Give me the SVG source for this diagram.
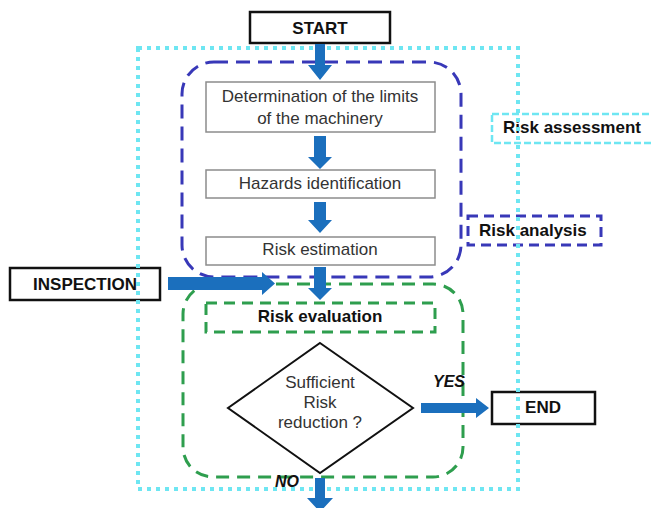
<svg xmlns="http://www.w3.org/2000/svg" width="652" height="508" viewBox="0 0 652 508">
<style>
text{font-family:"Liberation Sans",Arial,sans-serif}
.box{fill:#fff;stroke:#8c8c8c;stroke-width:1.5}
.term{fill:none;stroke:#111;stroke-width:2.5}
.t{font-size:17px;fill:#333;text-anchor:middle}
.b{font-size:17px;font-weight:bold;fill:#111}
.bi{font-size:16px;font-weight:bold;font-style:italic;fill:#111}
.arr{fill:#1b6fbd}
.cyan{fill:none;stroke:#6ee6f2;stroke-width:4;stroke-dasharray:4 5}
.cyanl{fill:none;stroke:#6ee6f2;stroke-width:2.5;stroke-dasharray:7 3}
.blue{fill:none;stroke:#3838b8;stroke-width:3;stroke-dasharray:14 8}
.green{fill:none;stroke:#2e9e4e;stroke-width:3;stroke-dasharray:13 8}
</style>
<rect width="652" height="508" fill="#fff"/>
<g id="regions">
<rect id="risk-analysis-region" class="blue" x="182" y="62" width="279" height="215" rx="32"/>
<rect id="risk-evaluation-region" class="green" x="183" y="284" width="280" height="193" rx="30"/>
</g>
<g id="start"><rect class="term" x="250" y="12" width="140" height="31"/><text class="b" x="320" y="34" text-anchor="middle" font-size="18">START</text></g>
<g id="limits"><rect class="box" x="206" y="82" width="229" height="50"/><text class="t" x="320" y="102">Determination of the limits</text><text class="t" x="320" y="124">of the machinery</text></g>
<g id="hazards"><rect class="box" x="206" y="170" width="229" height="28"/><text class="t" x="320" y="189">Hazards identification</text></g>
<g id="estimation"><rect class="box" x="206" y="237" width="229" height="28"/><text class="t" x="320" y="255">Risk estimation</text></g>
<g id="risk-assessment-label"><rect class="cyanl" x="492" y="114" width="170" height="29"/><text class="b" x="503" y="133">Risk assessment</text></g>
<g id="risk-analysis-label"><rect class="blue" x="468" y="216" width="133" height="29" style="stroke-dasharray:10 6"/><text class="b" x="479" y="236">Risk analysis</text></g>
<g id="inspection"><rect class="term" x="10" y="268" width="150" height="32"/><text class="b" x="85" y="290" text-anchor="middle" font-size="18.5">INSPECTION</text></g>
<g id="evaluation"><rect x="206" y="303" width="229" height="29" fill="none" stroke="#2e9e4e" stroke-width="3" stroke-dasharray="11 7"/><text class="b" x="320" y="322" text-anchor="middle">Risk evaluation</text></g>
<g id="decision"><polygon points="320,343 413,408 320,473 228,408" fill="#fff" stroke="#111" stroke-width="2"/><text class="t" x="320" y="388">Sufficient</text><text class="t" x="320" y="408">Risk</text><text class="t" x="320" y="428">reduction ?</text></g>
<g id="end"><rect class="term" x="492" y="392" width="103" height="32"/><text class="b" x="543" y="413" text-anchor="middle" font-size="19">END</text></g>
<g id="assessment-region"><rect id="risk-assessment-region" class="cyan" x="138" y="48" width="380" height="441"/></g>
<g id="connectors">
<polygon class="arr" points="315,44 325,44 325,65 332,65 320,80 308,65 315,65"/>
<polygon class="arr" points="314,136 326,136 326,157 332,157 320,169 308,157 314,157"/>
<polygon class="arr" points="314,202 326,202 326,220 332,220 320,233 308,220 314,220"/>
<polygon class="arr" points="314,267 326,267 326,288 332,288 320,300 308,288 314,288"/>
<polygon class="arr" points="168,277 262,277 262,272 275,283.5 262,295 262,290 168,290"/>
<polygon class="arr" points="421,403 476,403 476,398 489,408 476,418 476,413 421,413"/>
<polygon class="arr" points="315,478 325,478 325,498 333,498 320,512 307,498 315,498"/>
<text class="bi" x="433" y="387">YES</text>
<text class="bi" x="275" y="487">NO</text>
</g>
</svg>
